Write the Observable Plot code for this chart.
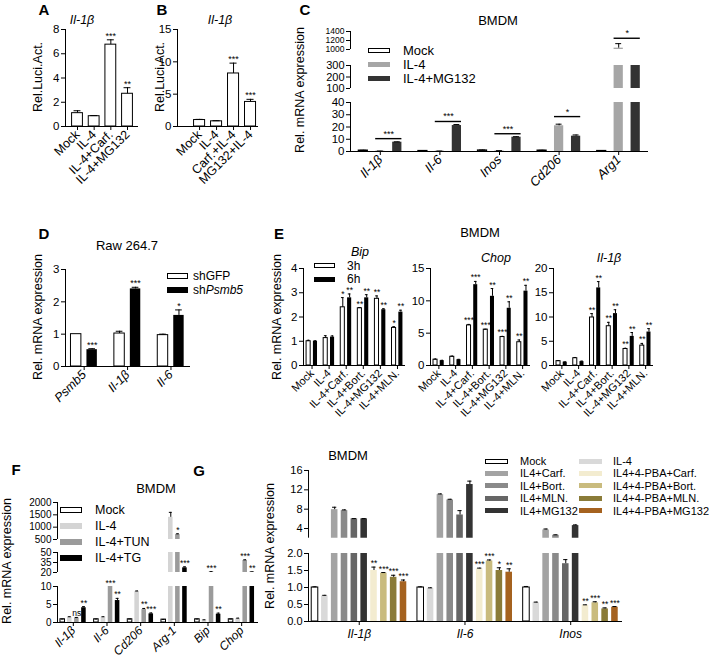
<!DOCTYPE html>
<html><head><meta charset="utf-8">
<script src="https://cdn.jsdelivr.net/npm/d3@7"></script>
<script src="https://cdn.jsdelivr.net/npm/@observablehq/plot@0.6"></script>
<style>
body{margin:0;background:#fff;}
#root{position:relative;width:709px;height:666px;overflow:hidden;background:#fff;font-family:"Liberation Sans",Arial,sans-serif;color:#000;}
.t{position:absolute;white-space:nowrap;line-height:1;}
</style></head>
<body><div id="root"></div>
<script>
// ---------- Panel A ----------
const aCats = ["Mock", "IL-4", "IL-4+Carf.", "IL-4+MG132"];
const aVals = [1.1, 0.85, 6.75, 2.7];
const aErr  = [0.2, 0.05, 0.4, 0.5];
const aSig  = ["", "", "***", "**"];
// ---------- Panel B ----------
const bCats = ["Mock", "IL-4", "Carf.+IL-4", "MG132+IL-4"];
const bVals = [1.0, 0.8, 8.2, 3.8];
const bErr  = [0.1, 0.1, 1.6, 0.4];
const bSig  = ["", "", "***", "***"];
// ---------- Panel C ----------
const cGenes = ["Il-1β", "Il-6", "Inos", "Cd206", "Arg1"];
const cSeries = ["Mock", "IL-4", "IL-4+MG132"];
const cMock = [0.8, 0.5, 0.9, 0.8, 0.5];
const cMockErr = [0.2, 0.1, 0.3, 0.2, 0.1];
const cIL4 = [0.3, 0.3, 0.5, 21, 1030];
const cIL4Err = [0.1, 0.1, 0.2, 1.3, 100];
const cMG = [7.6, 21.2, 11.7, 12.5, 600];
const cMGErr = [0.3, 0.8, 0.4, 1.0, 0];
const cBracketY = [10.5, 24.5, 14.5, 28.5, 1250];
const cBracketSig = ["***", "***", "***", "*", "*"];
// ---------- Panel D ----------
const dGenes = ["Psmb5", "Il-1β", "Il-6"];
const dSeries = ["shGFP", "sh<i>Psmb5</i>"];
const dGFP = [1.0, 1.02, 0.97];
const dGFPErr = [0, 0.07, 0.03];
const dSh = [0.52, 2.4, 1.58];
const dShErr = [0.03, 0.05, 0.17];
const dShSig = ["***", "***", "*"];
// ---------- Panel E ----------
const eCats = ["Mock", "IL-4", "IL-4+Carf.", "IL-4+Bort.", "IL-4+MG132", "IL-4+MLN."];
const eSeries = ["3h", "6h"];
const eBip3 = [1.0, 1.13, 2.4, 2.36, 2.75, 1.55];
const eBip3Err = [0.04, 0.1, 0.4, 0.03, 0.12, 0.05];
const eBip3Sig = ["", "", "*", "**", "**", "*"];
const eBip6 = [1.0, 1.17, 2.79, 2.79, 2.3, 2.2];
const eBip6Err = [0.02, 0.05, 0.16, 0.13, 0.04, 0.08];
const eBip6Sig = ["", "", "**", "**", "**", "**"];
const eChop3 = [0.9, 1.35, 6.2, 5.55, 4.4, 3.6];
const eChop3Err = [0.1, 0.1, 0.15, 0.05, 0.1, 0.35];
const eChop3Sig = ["", "", "***", "***", "***", "**"];
const eChop6 = [0.75, 0.9, 12.5, 10.7, 8.85, 11.5];
const eChop6Err = [0.05, 0.05, 0.5, 1.2, 1.0, 0.9];
const eChop6Sig = ["", "", "***", "**", "**", "**"];
const eIl3 = [0.9, 1.5, 9.9, 8.1, 3.4, 4.1];
const eIl3Err = [0.1, 0.15, 0.8, 0.8, 0.15, 0.45];
const eIl3Sig = ["", "", "**", "**", "**", "**"];
const eIl6 = [0.7, 0.8, 16.0, 10.7, 6.0, 6.9];
const eIl6Err = [0.05, 0.1, 1.3, 0.8, 0.8, 0.7];
const eIl6Sig = ["", "", "**", "**", "**", "**"];
// ---------- Panel F ----------
const fGenes = ["Il-1β", "Il-6", "Cd206", "Arg-1", "Bip", "Chop"];
const fSeries = ["Mock", "IL-4", "IL-4+TUN", "IL-4+TG"];
const fMock = [0.9, 0.9, 0.9, 0.8, 0.9, 0.9];
const fMockErr = [0.05, 0.05, 0.05, 0.05, 0.05, 0.05];
const fIL4 = [1.5, 1.5, 8.6, 1400, 0.7, 1.1];
const fIL4Err = [0.1, 0.1, 0.15, 200, 0.05, 0.1];
const fTUN = [1.3, 14, 3.6, 700, 21, 38];
const fTUNErr = [0.1, 0, 0.3, 30, 0.3, 1.0];
const fTUNSig = ["ns", "***", "**", "*", "***", "***"];
const fTG = [4.1, 6.1, 2.4, 27, 2.3, 20.6];
const fTGErr = [0.3, 0.6, 0.25, 1.5, 0.3, 0.3];
const fTGSig = ["**", "**", "***", "***", "**", "**"];
// ---------- Panel G ----------
const gGenes = ["Il-1β", "Il-6", "Inos"];
const gSeries = ["Mock", "IL-4", "IL4+Carf.", "IL4+Bort.", "IL4+MLN.", "IL4+MG132",
  "IL4+4-PBA+Carf.", "IL4+4-PBA+Bort.", "IL4+4-PBA+MLN.", "IL4+4-PBA+MG132"];
const gIl1b = [1.0, 0.75, 7.9, 7.7, 6.0, 6.0, 1.5, 1.42, 1.3, 1.17];
const gIl1bErr = [0.02, 0.02, 0.5, 0.15, 0.05, 0.05, 0.1, 0.02, 0.06, 0.05];
const gIl1bSig = ["", "", "", "", "", "", "**", "***", "***", "***"];
const gIl6 = [1.0, 0.97, 11.0, 9.9, 6.8, 13.1, 1.55, 1.78, 1.5, 1.45];
const gIl6Err = [0.02, 0.02, 0.15, 0.15, 0.9, 0.7, 0.02, 0.03, 0.08, 0.1];
const gIl6Sig = ["", "", "", "", "", "", "***", "***", "*", "**"];
const gInos = [1.0, 0.55, 3.7, 2.6, 1.7, 4.6, 0.48, 0.55, 0.37, 0.42];
const gInosErr = [0.03, 0.02, 0.2, 0.1, 0.12, 0.15, 0.01, 0.03, 0.03, 0.02];
const gInosSig = ["", "", "", "", "", "", "**", "***", "**", "***"];
const gLegendCol1 = [0, 2, 3, 4, 5];
const gLegendCol2 = [1, 6, 7, 8, 9];

// ---------- colours ----------
const cFills = ["white", "#a6a6a6", "#333333"];
const dFills = ["white", "black"];
const eFills = ["white", "black"];
const fFills = ["white", "#d4d4d4", "#9b9b9b", "black"];
const gFills = ["white", "#d9d9d9", "#a3a3a3", "#8a8a8a", "#666666", "#333333",
  "#f3ecd0", "#c9bb7e", "#8a7b38", "#a5621f"];

const FONT = '"Liberation Sans", Arial, sans-serif';
const root = document.getElementById("root");

function addText(html, x, y, o = {}) {
  const d = document.createElement("div");
  d.className = "t";
  d.innerHTML = html;
  d.style.fontSize = (o.size || 12) + "px";
  if (o.bold) d.style.fontWeight = "bold";
  if (o.italic) d.style.fontStyle = "italic";
  d.style.left = x + "px";
  d.style.top = y + "px";
  const tx = o.anchor === "start" ? "0" : o.anchor === "end" ? "-100%" : "-50%";
  d.style.transform = `translate(${tx},-50%)` + (o.rotate ? ` rotate(${o.rotate}deg)` : "");
  root.appendChild(d);
}
function swatch(x, y, w, h, fill) {
  const d = document.createElement("div");
  d.style.cssText = `position:absolute;left:${x}px;top:${y - h / 2}px;width:${w}px;height:${h}px;background:${fill};box-sizing:border-box;` +
    (fill === "white" ? "border:1.3px solid #000;" : "");
  root.appendChild(d);
}
function legend(labels, fills, x, y, dy, o) {
  labels.forEach((l, i) => {
    swatch(x, y + i * dy, o.w, o.h, fills[i]);
    addText(l, x + o.w + o.gap, y + i * dy, {anchor: "start", size: o.size});
  });
}
// rows: vals[i][j]; bySeries => i = series, j = group
function makeRows(vals, errs, sigs, bySeries = true) {
  const rows = [];
  vals.forEach((arr, i) => arr.forEach((v, j) => {
    rows.push({g: bySeries ? j : i, s: bySeries ? i : j, v, e: errs[i][j], sig: sigs && sigs[i] ? sigs[i][j] : ""});
  }));
  return rows;
}

function barSegment(c) {
  const mL = 50, mR = 30, mT = 20, mB = c.xLabels ? 90 : 4;
  const fw = c.right - c.left, fh = c.bottom - c.top;
  const [lo, hi] = c.yDomain;
  const sLo = c.starLo ?? -Infinity, sHi = c.starHi ?? Infinity;
  const n = c.nSeries;
  const pos = (g, s) => g + (s - (n - 1) / 2) * c.step;
  const xc = d => pos(d.g, d.s);
  const errRows = c.rows.filter(d => d.e > 0);
  const starRows = c.rows.filter(d => d.sig && d.v + d.e >= sLo && d.v + d.e < sHi);
  const cap = c.bw * 0.32;
  const fs = c.fontSize || 11.5;
  const outlined = c.rows.filter(d => c.fills[d.s] === "white");
  const marks = [
    Plot.rectY(c.rows, {x1: d => xc(d) - c.bw / 2, x2: d => xc(d) + c.bw / 2, y1: 0, y2: "v",
      fill: d => c.fills[d.s], clip: true}),
    Plot.rectY(outlined, {x1: d => xc(d) - c.bw / 2, x2: d => xc(d) + c.bw / 2, y1: 0, y2: "v",
      fill: "none", stroke: "black", strokeWidth: 1, clip: true}),
    Plot.ruleX(errRows, {x: xc, y1: "v", y2: d => d.v + d.e, stroke: "black", clip: true}),
    Plot.ruleY(errRows, {y: d => d.v + d.e, x1: d => xc(d) - cap, x2: d => xc(d) + cap, stroke: "black", clip: true}),
    Plot.text(starRows, {x: xc, y: d => Math.min(d.v + d.e, hi), text: "sig", lineAnchor: "bottom", dy: -1,
      fontSize: c.starSize || 9, fill: "black"}),
    Plot.ruleX([c.xDomain[0]], {stroke: "black"}),
    Plot.axisY({ticks: c.yTicks, tickFormat: c.yFormat || (d => String(d)), tickSize: 4, tickPadding: 2,
      fontSize: fs, fill: "black", stroke: "black", label: null})
  ];
  if (c.brackets) {
    const br = c.brackets.filter(b => b.y >= lo && b.y <= hi);
    marks.push(Plot.ruleY(br, {y: "y", x1: b => pos(b.g, 1) - c.bw / 2, x2: b => pos(b.g, 2) + c.bw / 2,
      stroke: "black", strokeWidth: 1.4}));
    marks.push(Plot.text(br, {x: b => pos(b.g, 1.5), y: "y", text: "sig", lineAnchor: "bottom", dy: -2, fontSize: 9, fill: "black"}));
  }
  if (c.xLabels) {
    marks.push(Plot.ruleY([lo], {stroke: "black"}));
    marks.push(Plot.axisX({ticks: d3.range(c.xLabels.length), tickFormat: i => c.xLabels[i],
      tickRotate: c.rotate ?? -45, tickSize: 4, tickPadding: c.tickPadding ?? 2,
      fontSize: c.xFontSize || 11.5, fontStyle: c.italic ? "italic" : "normal", fill: "black", stroke: "black", label: null}));
  }
  const svg = Plot.plot({
    width: fw + mL + mR, height: fh + mT + mB,
    marginLeft: mL, marginRight: mR, marginTop: mT, marginBottom: mB,
    x: c.xLabels ? {type: "linear", domain: c.xDomain} : {type: "linear", domain: c.xDomain, axis: null},
    y: {type: "linear", domain: c.yDomain},
    color: {type: "identity"},
    style: {fontFamily: FONT, fontSize: fs + "px", background: "transparent", overflow: "visible", color: "black"},
    marks
  });
  svg.style.position = "absolute";
  svg.style.left = (c.left - mL) + "px";
  svg.style.top = (c.top - mT) + "px";
  svg.style.maxWidth = "none";
  root.appendChild(svg);
}

// ================= Panel A =================
addText("A", 44, 9, {size: 15, bold: true});
addText("Il-1β", 82, 20, {size: 12.5, italic: true});
addText("Rel.Luci.Act.", 38, 77, {size: 12.5, rotate: -90});
barSegment({left: 65, right: 138, top: 29, bottom: 126, xDomain: [-0.72, 3.66], yDomain: [0, 8],
  yTicks: [0, 2, 4, 6, 8], rows: makeRows([aVals], [aErr], [aSig]), nSeries: 1, step: 0, bw: 0.65,
  fills: ["white"], xLabels: aCats, xFontSize: 12.5});

// ================= Panel B =================
addText("B", 162, 9, {size: 15, bold: true});
addText("Il-1β", 220, 20, {size: 12.5, italic: true});
addText("Rel.Luci.Act.", 160, 77, {size: 12.5, rotate: -90});
barSegment({left: 177, right: 258, top: 29, bottom: 126, xDomain: [-1.3, 3.47], yDomain: [0, 15],
  yTicks: [0, 5, 10, 15], rows: makeRows([bVals], [bErr], [bSig]), nSeries: 1, step: 0, bw: 0.65,
  fills: ["white"], xLabels: bCats, xFontSize: 12.5});

// ================= Panel C =================
addText("C", 305, 9, {size: 15, bold: true});
addText("BMDM", 498, 20, {size: 13});
addText("Rel. mRNA expression", 300, 90, {size: 12.5, rotate: -90});
const cRows = makeRows([cMock, cIL4, cMG], [cMockErr, cIL4Err, cMGErr], null);
const cBrackets = cBracketY.map((y, g) => ({g, y, sig: cBracketSig[g]}));
const cBase = {left: 350, right: 648, xDomain: [-0.5, 4.5], rows: cRows, nSeries: 3, step: 0.285, bw: 0.155,
  fills: cFills, brackets: cBrackets};
barSegment({...cBase, top: 31, bottom: 49, yDomain: [1000, 1400], yTicks: [1000, 1200, 1400], starLo: 1000, fontSize: 8.5});
barSegment({...cBase, top: 65, bottom: 88, yDomain: [100, 300], yTicks: [100, 200, 300], starLo: 100, starHi: 1000, fontSize: 11});
barSegment({...cBase, top: 102, bottom: 151, yDomain: [0, 40], yTicks: [0, 10, 20, 30, 40], starHi: 100,
  xLabels: cGenes, italic: true, xFontSize: 13});
legend(cSeries, cFills, 368, 50, 14, {w: 22, h: 5, gap: 13, size: 13});

// ================= Panel D =================
addText("D", 44, 233, {size: 15, bold: true});
addText("Raw 264.7", 127, 245, {size: 13});
addText("Rel. mRNA expression", 38, 317, {size: 12.5, rotate: -90});
barSegment({left: 65, right: 190, top: 269, bottom: 366, xDomain: [-0.43, 2.45], yDomain: [0, 3],
  yTicks: [0, 1, 2, 3], rows: makeRows([dGFP, dSh], [dGFPErr, dShErr], [null, dShSig]), nSeries: 2,
  step: 0.368, bw: 0.24, fills: dFills, xLabels: dGenes, italic: true, xFontSize: 12.5});
legend(dSeries, dFills, 167, 276, 13.5, {w: 21, h: 6, gap: 5, size: 12});

// ================= Panel E =================
addText("E", 279, 233, {size: 15, bold: true});
addText("BMDM", 480, 232, {size: 13});
addText("Rel. mRNA expression", 277, 317, {size: 12.5, rotate: -90});
const eBase = {top: 268, bottom: 365, xDomain: [-0.5, 5.47], nSeries: 2, step: 0.4, bw: 0.24,
  fills: eFills, xLabels: eCats, xFontSize: 11, starSize: 8.5};
barSegment({...eBase, left: 303, right: 405, yDomain: [0, 4], yTicks: [0, 1, 2, 3, 4],
  rows: makeRows([eBip3, eBip6], [eBip3Err, eBip6Err], [eBip3Sig, eBip6Sig])});
barSegment({...eBase, left: 430, right: 530, yDomain: [0, 15], yTicks: [0, 5, 10, 15],
  rows: makeRows([eChop3, eChop6], [eChop3Err, eChop6Err], [eChop3Sig, eChop6Sig])});
barSegment({...eBase, left: 553, right: 653, yDomain: [0, 20], yTicks: [0, 5, 10, 15, 20],
  rows: makeRows([eIl3, eIl6], [eIl3Err, eIl6Err], [eIl3Sig, eIl6Sig])});
addText("Bip", 360, 252, {size: 12.5, italic: true});
addText("Chop", 496, 258, {size: 12.5, italic: true});
addText("Il-1β", 609, 258, {size: 12.5, italic: true});
legend(eSeries, eFills, 314, 265.5, 13.5, {w: 21, h: 5, gap: 12, size: 12});

// ================= Panel F =================
addText("F", 16, 469, {size: 15, bold: true});
addText("BMDM", 156, 488, {size: 13});
addText("Rel. mRNA expression", 7, 561, {size: 12.5, rotate: -90});
const fRows = makeRows([fMock, fIL4, fTUN, fTG], [fMockErr, fIL4Err, fTUNErr, fTGErr], [null, null, fTUNSig, fTGSig]);
const fBase = {left: 57, right: 258, xDomain: [-0.47, 5.5], rows: fRows, nSeries: 4, step: 0.21, bw: 0.135,
  fills: fFills, starSize: 8.5, fontSize: 10};
barSegment({...fBase, top: 502, bottom: 539, yDomain: [500, 2000], yTicks: [500, 1000, 1500, 2000], starLo: 500});
barSegment({...fBase, top: 552, bottom: 572, yDomain: [20, 50], yTicks: [20, 35, 50], starLo: 20, starHi: 500});
barSegment({...fBase, top: 586, bottom: 622, yDomain: [0, 10], yTicks: [0, 5, 10], starHi: 20,
  xLabels: fGenes, italic: true, xFontSize: 12});
legend(fSeries, fFills, 60, 510, 16, {w: 22, h: 6, gap: 13, size: 12.5});

// ================= Panel G =================
addText("G", 199, 470, {size: 15, bold: true});
addText("BMDM", 348, 455, {size: 13});
addText("Rel. mRNA expression", 270, 546, {size: 12.5, rotate: -90});
const gRows = makeRows([gIl1b, gIl6, gInos], [gIl1bErr, gIl6Err, gInosErr], [gIl1bSig, gIl6Sig, gInosSig], false);
const gBase = {left: 308, right: 622, xDomain: [-0.48, 2.49], rows: gRows, nSeries: 10, step: 0.093, bw: 0.062,
  fills: gFills, fontSize: 11, starSize: 8.5};
barSegment({...gBase, top: 470, bottom: 537.7, yDomain: [2, 16], yTicks: [4, 8, 12, 16], starLo: 2});
barSegment({...gBase, top: 553, bottom: 621, yDomain: [0, 2], yTicks: [0, 0.5, 1, 1.5, 2], yFormat: d3.format(".1f"),
  starHi: 2, xLabels: gGenes, italic: true, rotate: 0, xFontSize: 12, tickPadding: 4});
legend(gLegendCol1.map(i => gSeries[i]), gLegendCol1.map(i => gFills[i]), 485, 461, 12.4, {w: 23, h: 5, gap: 12, size: 11});
legend(gLegendCol2.map(i => gSeries[i]), gLegendCol2.map(i => gFills[i]), 579, 461, 12.4, {w: 23, h: 5, gap: 11, size: 11});
</script>
</body></html>
